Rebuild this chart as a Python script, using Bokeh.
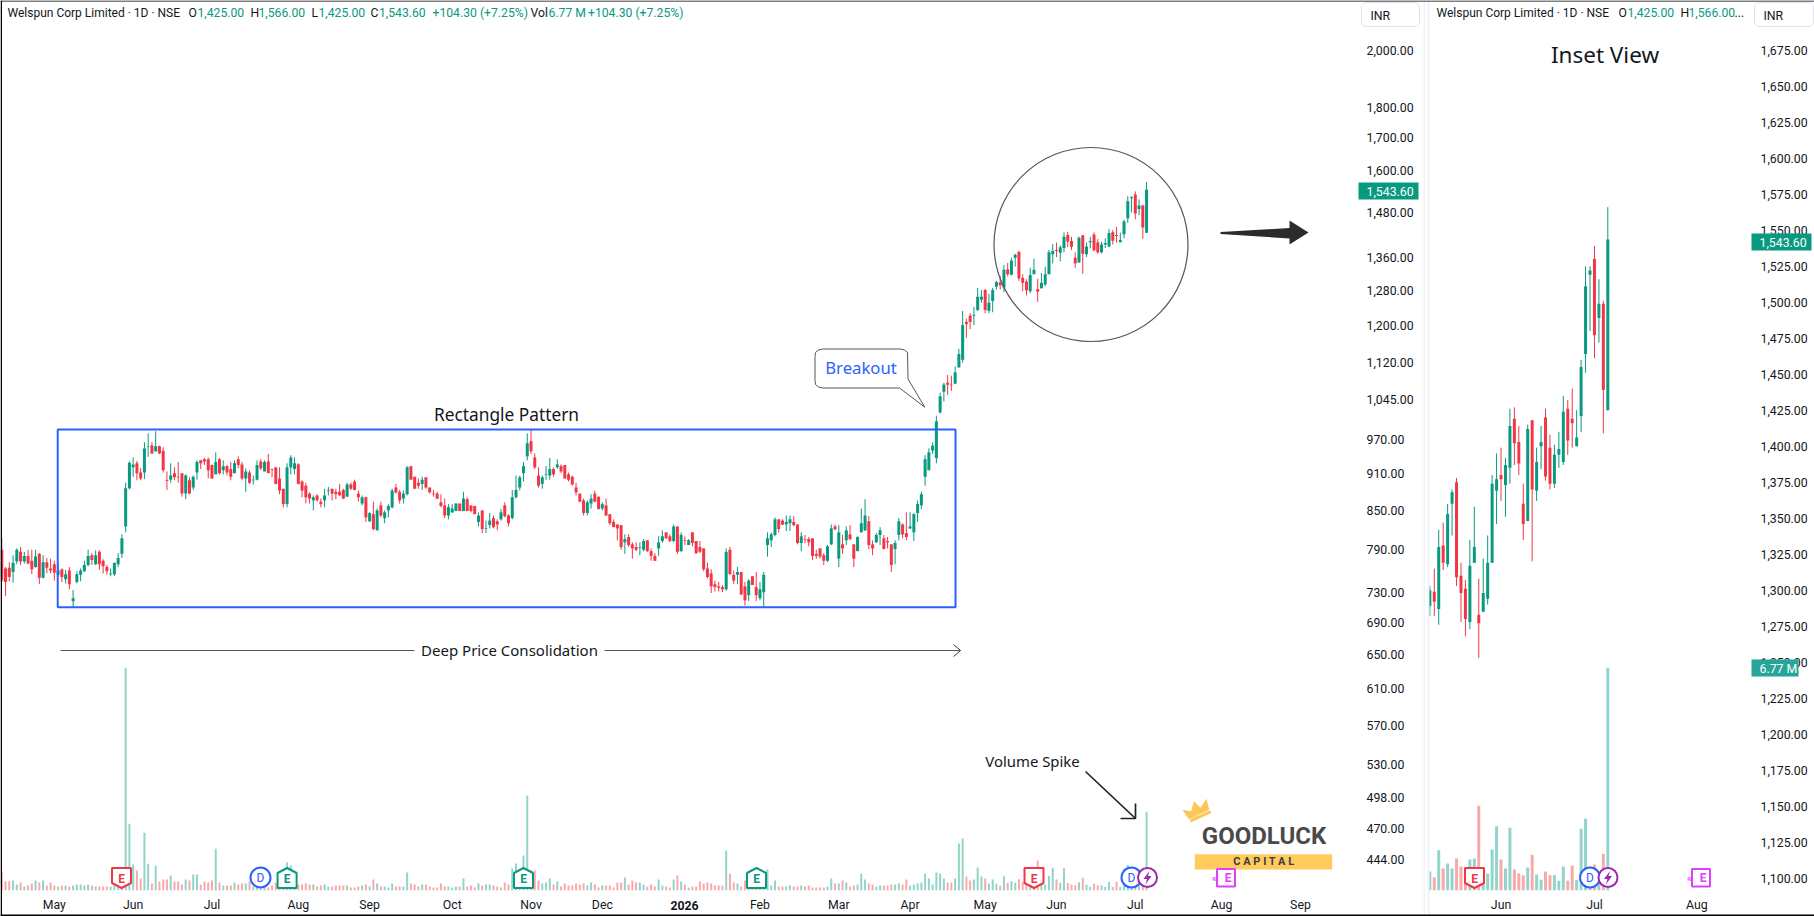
from bokeh.plotting import figure
from bokeh.layouts import row
from bokeh.models import Range1d, LinearScale, FixedTicker, NumeralTickFormatter
from bokeh.core.properties import value
from bokeh.embed import file_html
from bokeh.resources import INLINE

opens = [790,763,764,758,773,787,773,781,774,765,
784,750,772,763,769,754,762,748,760,718,
744,754,759,768,782,769,787,774,765,755,
755,769,784,825,886,921,928,912,912,957,
959,949,958,950,899,900,911,905,911,877,
899,887,912,933,935,935,925,909,935,916,
923,918,911,935,926,902,912,899,900,931,
914,931,918,921,902,885,860,921,918,926,
897,890,877,866,874,864,866,882,885,880,
880,883,872,892,897,877,861,871,833,844,
819,858,838,850,855,887,880,869,876,923,
905,895,893,904,887,877,877,863,858,842,
847,849,861,849,868,858,857,832,850,821,
827,838,833,836,858,842,838,871,887,911,
940,967,938,907,893,908,907,918,921,923,
925,909,905,887,877,866,846,861,877,872,
853,858,844,832,828,827,801,809,798,794,
793,790,804,788,781,792,803,816,810,803,
825,788,804,797,816,803,794,792,763,756,
741,738,737,734,790,754,754,758,738,726,
752,737,722,730,797,804,812,836,834,828,
830,832,828,800,806,806,807,784,792,782,
774,798,825,777,798,804,813,798,788,816,
819,833,798,801,812,807,803,798,791,812,
828,815,822,816,846,858,905,916,950,937,
1020,1060,1078,1074,1076,1109,1125,1207,1221,1221,
1234,1258,1281,1232,1255,
1289,1299,1287,1331,1318,1360,1375,1310,1301,1278,
1319,1283,1285,1294,1319,1369,1380,1373,1385,1419,
1403,1360,1348,1418,1369,1400,1420,1399,1374,1394,
1389,1426,1419,1400,1421,1464,1519,1530,1489,1499,1425]

closes = [746,744,751,771,790,773,781,770,762,780,
750,772,764,760,757,760,751,755,741,722,
755,760,768,781,775,782,769,766,759,756,
771,778,807,886,929,926,911,902,954,958,
945,958,945,916,898,907,904,904,877,907,
877,905,930,928,931,916,902,930,911,923,
912,905,928,925,902,914,895,900,925,919,
930,911,917,893,882,860,921,938,928,893,
882,871,869,871,866,860,874,883,877,876,
874,869,892,885,883,871,871,839,846,821,
850,842,847,857,882,879,866,877,921,900,
885,890,900,887,879,876,869,857,842,855,
853,861,849,869,849,849,844,842,821,822,
834,824,828,847,841,830,871,883,904,923,
963,949,921,890,904,909,918,909,926,914,
902,900,892,879,864,846,863,869,864,852,
860,842,830,824,822,794,806,797,792,790,
794,803,788,781,774,801,810,807,803,825,
787,812,803,804,800,785,787,762,751,738,
737,736,734,787,755,746,758,727,719,746,
740,726,734,754,807,813,836,821,828,832,
836,827,800,810,805,801,781,781,780,774,
795,822,821,816,792,819,806,777,809,830,
842,797,792,812,819,791,801,768,800,833,
813,809,825,844,860,876,935,947,959,1003,
1051,1074,1074,1073,1099,1137,1200,1202,1207,1223,
1265,1265,1234,1251,1281,
1300,1292,1330,1319,1353,1368,1309,1298,1280,1317,
1330,1277,1298,1319,1374,1377,1377,1387,1414,1402,
1388,1346,1412,1370,1389,1403,1379,1374,1394,1398,
1424,1404,1416,1406,1455,1511,1522,1477,1499,1439,1543.6]

highs = [807,765,772,782,792,794,787,790,790,790,
785,782,778,777,774,768,763,761,765,733,
759,763,774,790,785,789,789,776,768,763,
771,785,813,895,931,938,932,920,965,981,
965,985,959,956,914,928,921,930,911,909,
904,907,933,933,937,938,926,947,937,933,
925,930,933,940,930,919,916,907,933,935,
933,944,919,921,921,885,928,942,938,928,
899,895,879,874,876,869,885,888,885,885,
893,885,895,895,900,882,874,872,847,864,
853,864,850,860,885,893,883,882,923,923,
905,902,905,904,887,883,880,876,869,860,
860,861,861,880,871,858,857,847,850,834,
846,842,836,852,863,844,883,907,907,930,
981,988,945,921,907,923,937,921,935,926,
925,912,907,895,877,869,866,876,882,872,
863,869,844,836,828,827,813,813,801,801,
801,806,804,792,785,810,819,816,813,828,
825,816,810,806,816,803,803,792,771,762,
746,744,740,792,794,760,765,758,744,748,
752,758,744,758,816,816,839,836,836,842,
842,841,828,816,812,809,807,790,792,785,
797,828,828,827,812,825,827,798,810,853,
868,841,804,815,824,812,809,798,804,838,
830,847,847,846,866,880,942,954,965,1014,
1058,1078,1094,1092,1111,1148,1232,1214,1227,1241,
1286,1281,1283,1272,1286,
1303,1315,1342,1347,1360,1370,1378,1319,1307,1335,
1358,1308,1322,1338,1380,1395,1399,1392,1426,1427,
1414,1374,1415,1418,1399,1414,1426,1408,1401,1410,
1435,1432,1440,1425,1460,1525,1525,1539,1516,1501,1566]

lows = [744,725,745,743,769,768,770,769,755,764,
741,749,756,756,746,752,744,742,734,710,
742,745,758,766,768,768,761,756,754,752,
752,765,778,816,884,905,899,899,901,939,
944,948,944,912,883,895,899,895,872,868,
876,883,900,918,925,902,902,909,909,909,
907,899,911,919,899,880,893,892,899,916,
914,911,904,892,876,855,855,909,909,892,
871,861,861,850,864,855,855,874,866,868,
874,868,872,883,882,864,858,832,832,819,
819,839,830,839,853,877,861,861,874,900,
885,885,883,885,877,872,868,855,838,836,
846,849,849,849,849,847,844,825,815,815,
822,822,819,834,839,825,836,869,882,897,
933,944,918,887,885,900,900,905,918,911,
902,897,890,874,863,842,842,853,863,852,
850,841,827,824,804,790,784,794,777,788,
782,788,787,774,774,781,800,806,801,801,
784,787,797,797,795,784,785,759,749,729,
731,731,730,732,754,741,741,726,712,718,
740,718,719,709,780,794,810,816,827,818,
818,825,798,788,800,795,775,777,777,768,
772,797,819,765,784,797,804,765,788,816,
818,791,782,800,797,791,792,758,769,804,
807,804,821,803,832,852,890,916,944,928,
1018,1041,1054,1062,1076,1109,1119,1172,1191,1200,
1232,1251,1227,1227,1229,
1282,1282,1276,1314,1316,1338,1303,1278,1268,1273,
1319,1253,1285,1290,1319,1346,1362,1351,1374,1387,
1380,1335,1348,1320,1362,1384,1376,1370,1371,1385,
1387,1394,1399,1400,1410,1451,1480,1461,1472,1409,1425]

volumes = [1.64,.80,.80,.86,.52,.69,.34,.43,.60,.86,
.69,.86,.43,.69,.43,.34,.43,.43,.34,.43,
.52,.52,.43,.52,.43,.34,.34,.34,.34,.34,
.43,.34,.26,19.17,5.74,2.24,1.72,1.03,4.97,2.30,
.60,2.15,.77,.95,.95,1.29,.77,.77,.52,.95,
.86,1.38,1.38,.52,.77,.69,.86,3.59,.69,.43,
.43,.43,.69,.52,.60,.60,.77,.34,.26,.26,
.26,.26,.43,.69,.43,.86,2.41,2.15,.34,.52,
.52,.60,.52,.52,.34,.43,.52,.34,.34,.43,
.43,.43,.43,.26,.26,.34,.43,.52,.34,.95,
.60,.34,.34,.26,.60,.34,.34,.34,1.55,.60,
.52,.34,.52,.52,.34,.26,.26,.60,.34,.34,
.26,.34,.34,1.03,.34,.43,.26,.60,.43,.52,
.52,.43,.34,.26,.69,.52,1.89,2.32,1.21,3.01,
8.18,1.72,1.72,.86,.60,.69,1.03,.52,.77,.34,
.60,.43,.43,.60,.52,.60,.43,.69,.52,.26,
.43,.43,.43,.26,.69,.69,1.12,.52,.86,.69,
.69,.52,.34,.52,.34,.95,.43,.34,.26,.95,
1.29,.77,.52,.26,.34,.34,.77,
.60,.69,.60,.43,.43,.43,3.44,1.46,.69,.60,
.34,.86,.26,.26,.26,.34,.26,1.81,.43,.86,
.34,.34,.34,.43,.34,.34,.43,.34,.43,.26,
.26,.26,.26,.34,1.03,.60,.60,.86,.69,.34,
.43,.52,1.46,.95,.60,.52,.34,.43,.43,.43,
.52,.52,.60,.52,.95,.43,.52,.60,.69,1.46,
1.03,.52,1.55,1.46,1.03,.69,.69,1.03,4.05,4.48,
1.21,.86,.95,1.98,1.21,1.03,.60,.95,
.58,.40,1.22,.67,.82,.67,.97,.73,.55,.94,
.97,2.58,.46,.52,1.25,1.95,.94,.67,1.91,.64,
.52,.46,.70,1.09,.49,.33,.58,.46,.46,.30,
.73,.30,.76,.33,1.88,2.19,.30,.79,.40,1.12,6.77]

main_price_ticks = [2000,1800,1700,1600,1480,1360,1280,1200,1120,1045,970,910,850,790,730,690,650,610,570,530,498,470,444]
inset_price_ticks = list(range(1100, 1700, 25))
month_ticks = [14,35,56,79,98,120,141,160,182,202,223,242,262,281,302,325,346]
month_labels = ["May","Jun","Jul","Aug","Sep","Oct","Nov","Dec","","Feb","Mar","Apr","May","Jun","Jul","Aug","Sep"]
inset_month_ticks = [281,302,325]
inset_month_labels = ["Jun","Jul","Aug"]
INSET_START = 265

FONT = "Roboto"
DRAW_FONT = "Noto Sans"
GREEN, RED = "#089981", "#f23645"
VGREEN, VRED = "#92d3ca", "#f9a9a9"
INK = "#131722"
BLUE = "#2962ff"
FRAME_H = 890


def build(x0, frame_w, right_pad, x_range, y_range, y_type, vol_top, ticks, tick_fmt, body_w, vol_w, start, mticks, mlabels):
    p = figure(width=int(frame_w + right_pad), height=916, output_backend="svg", toolbar_location=None,
               x_range=Range1d(*x_range), y_range=Range1d(*y_range), y_axis_type=y_type, y_axis_location="right",
               min_border_left=0, min_border_right=right_pad, min_border_top=0, min_border_bottom=26,
               outline_line_color=None, background_fill_color="white", border_fill_color="white", frame_align=False)
    p.grid.visible = False
    p.extra_x_ranges = {"px": Range1d(x0, x0 + frame_w)}
    p.extra_y_ranges = {"px": Range1d(FRAME_H, 0), "vol": Range1d(0, vol_top)}
    p.extra_x_scales = {"px": LinearScale()}
    p.extra_y_scales = {"px": LinearScale(), "vol": LinearScale()}
    ax = p.yaxis[0]
    ax.ticker = FixedTicker(ticks=ticks)
    ax.formatter = NumeralTickFormatter(format=tick_fmt)
    bx = p.xaxis[0]
    bx.ticker = FixedTicker(ticks=mticks)
    bx.major_label_overrides = dict(zip(mticks, mlabels))
    for a in (ax, bx):
        a.axis_line_color = None
        a.major_tick_line_color = None
        a.minor_tick_line_color = None
        a.major_tick_out = 0
        a.major_tick_in = 0
        a.minor_tick_out = 0
        a.minor_tick_in = 0
        a.major_label_text_font = FONT
        a.major_label_text_font_size = "12.3px"
        a.major_label_text_color = INK
    ax.major_label_standoff = 6
    bx.major_label_standoff = 7

    idx = list(range(start, len(opens)))
    o, h, l, c, v = opens[start:], highs[start:], lows[start:], closes[start:], volumes[start:]
    col = [GREEN if ci >= oi else RED for oi, ci in zip(o, c)]
    vcol = [VGREEN if ci >= oi else VRED for oi, ci in zip(o, c)]
    p.vbar(x=idx, top=v, bottom=0, width=vol_w, color=vcol, y_range_name="vol", line_color=None)
    p.segment(x0=idx, x1=idx, y0=l, y1=h, color=col, line_width=1)
    p.vbar(x=idx, top=[max(a, b) for a, b in zip(o, c)], bottom=[min(a, b) for a, b in zip(o, c)],
           width=body_w, color=col, line_color=None)
    return p


def txt(p, x, y, s, color=INK, size=12, align="left", style="normal", font=FONT):
    p.text(x=[x], y=[y], text=[s], x_range_name="px", y_range_name="px", text_font=value(font),
           text_font_size=f"{size}px", text_color=color, text_align=align, text_baseline="middle",
           text_font_style=style)


def ln(p, xs, ys, color="#333333", w=1.0):
    p.line(xs, ys, x_range_name="px", y_range_name="px", line_color=color, line_width=w)


def poly(p, xs, ys, fill, line=None, w=1.0):
    p.patch(xs, ys, x_range_name="px", y_range_name="px", fill_color=fill, line_color=line, line_width=w)


def e_mark(p, cx, color, down):
    xl, xr, t, b = cx - 9.5, cx + 9.5, 867.5, 887.5
    if down:
        poly(p, [xl, xr, xr, cx, xl], [t, t, b - 5, b, b - 5], "white", color, 2)
    else:
        poly(p, [xl, cx, xr, xr, xl], [t + 5, t, t + 5, b, b], "white", color, 2)
    txt(p, cx, 878, "E", color, 12, "center", "bold")


def d_mark(p, cx):
    p.ellipse([cx], [877], width=20, height=20, x_range_name="px", y_range_name="px",
              fill_color="white", line_color=BLUE, line_width=2)
    txt(p, cx, 877, "D", BLUE, 12, "center")


def bolt_mark(p, cx):
    p.ellipse([cx], [877], width=19, height=19, x_range_name="px", y_range_name="px",
              fill_color="white", line_color="#9c27b0", line_width=2)
    poly(p, [cx + 2, cx - 4, cx - 0.5, cx - 2, cx + 4, cx + 0.5],
         [870.5, 878.5, 878.5, 884, 875.5, 875.5], "#9c27b0")


def est_mark(p, cx):
    poly(p, [cx - 9, cx + 9, cx + 9, cx - 9], [868.5, 868.5, 886, 886], "white", "#e040fb", 2)
    txt(p, cx + 2, 877.5, "E", "#e040fb", 12, "center", "bold")
    txt(p, cx - 11, 877.5, "\u2248", "#e040fb", 10, "center", "bold")


def tag(p, x0, x1, y0, y1, tx, s, fill):
    poly(p, [x0, x1, x1, x0], [y0, y0, y1, y1], fill)
    txt(p, tx, (y0 + y1) / 2 + 0.5, s, "white", 12.3)


def inr_box(p, x0, x1, tx):
    poly(p, [x0 + 3, x1 - 3, x1, x1, x1 - 3, x0 + 3, x0, x0], [2, 2, 5, 23, 26, 26, 23, 5], "white", "#e0e3eb", 1)
    txt(p, tx, 15, "INR", INK, 12.3)


# ---------- main pane ----------
main = build(0, 1360, 68, (-0.346, 362.0), (419.1, 2195), "log", 76.56, main_price_ticks, "0,0.00", 0.8, 0.53, 0,
             month_ticks, month_labels)

# pattern box from its index and price limits
RECT_LEFT, RECT_RIGHT, RECT_TOP, RECT_BOTTOM = 14.9, 254.1, 988, 710
main.quad(left=[RECT_LEFT], right=[RECT_RIGHT], top=[RECT_TOP], bottom=[RECT_BOTTOM], fill_color=None, line_color=BLUE, line_width=2)

txt(main, 7, 12, "Welspun Corp Limited \u00b7 1D \u00b7 NSE", INK, 12)
for x, s, col in [(188, "O", INK), (197, "1,425.00", GREEN), (250, "H", INK), (258, "1,566.00", GREEN),
                  (311, "L", INK), (318, "1,425.00", GREEN), (370, "C", INK), (378.5, "1,543.60", GREEN),
                  (432, "+104.30 (+7.25%)", GREEN), (530, "Vol", INK), (548, "6.77 M", GREEN),
                  (587.5, "+104.30 (+7.25%)", GREEN)]:
    txt(main, x, 12, s, col, 12.2)

txt(main, 506, 414, "Rectangle Pattern", "#131722", 17.3, "center", font=DRAW_FONT)
txt(main, 509, 649, "Deep Price Consolidation", "#131722", 15, "center", font=DRAW_FONT)
ln(main, [60, 414], [650, 650], "#555555", 1)
ln(main, [604, 960], [650, 650], "#555555", 1)
ln(main, [953, 960, 953], [644, 650, 656], "#333333", 1)

# breakout callout
poly(main, [822, 900, 904, 907, 907.5, 924.3, 899, 822, 818, 815, 814.5, 814.5, 815, 818],
     [348.5, 348.5, 349.5, 352, 378.5, 406.7, 387.5, 387.5, 386.5, 384, 380, 356, 352, 349.5],
     "white", "#555555", 1)
txt(main, 860.5, 367, "Breakout", BLUE, 16.7, "center", font=DRAW_FONT)

# circle and fat arrow
main.ellipse([1090.5], [244], width=194, height=194, x_range_name="px", y_range_name="px",
             fill_color=None, line_color="#555555", line_width=1.2)
poly(main, [1220, 1289, 1289, 1308, 1289, 1289, 1220], [231.5, 227.5, 220, 232, 244, 238, 233.5], "#2b2b2b")

# volume spike
txt(main, 1032, 760, "Volume Spike", "#131722", 14.9, "center", font=DRAW_FONT)
ln(main, [1085, 1135], [771, 818], "#222222", 1.7)
ln(main, [1120, 1135, 1135], [818, 818, 803], "#222222", 1.7)

# logo
poly(main, [1182, 1190.7, 1193.3, 1200, 1206, 1208.7, 1188.3], [809.3, 810.7, 800.7, 807.3, 798.3, 809.3, 818.7], "#fdc656")
poly(main, [1189.3, 1209.7, 1210.7, 1190.3], [818.7, 809.7, 812.5, 822], "#fdc656")
txt(main, 1263.5, 835, "GOODLUCK", "#4a4a4a", 24, "center", "bold")
poly(main, [1194.3, 1331.7, 1331.7, 1194.3], [853.7, 853.7, 869, 869], "#ffcb5c")
txt(main, 1263.5, 861, "C A P I T A L", "#3d3d3d", 11, "center", "bold")

e_mark(main, 121, RED, True)
d_mark(main, 260)
e_mark(main, 286.6, GREEN, False)
e_mark(main, 523, GREEN, False)
e_mark(main, 756, GREEN, False)
e_mark(main, 1033.5, RED, True)
d_mark(main, 1131)
bolt_mark(main, 1147)
est_mark(main, 1225.5)

# ---------- inset pane ----------
inset = build(1428, 326, 60, (264.7, 337.97), (1091.5, 1709.5), "linear", 27.06, inset_price_ticks, "0,0.00", 0.67, 0.67,
              INSET_START, inset_month_ticks, inset_month_labels)

txt(inset, 1436, 12, "Welspun Corp Limited \u00b7 1D \u00b7 NSE", INK, 12)
txt(inset, 1618, 12, "O", INK, 12.2)
txt(inset, 1627, 12, "1,425.00", GREEN, 12.2)
txt(inset, 1680, 12, "H", INK, 12.2)
txt(inset, 1688, 12, "1,566.00", GREEN, 12.2)
txt(inset, 1734, 12, "...", INK, 12.2)
txt(inset, 1604.5, 54, "Inset View", "#131722", 22.5, "center", font=DRAW_FONT)

e_mark(inset, 1474, RED, True)
d_mark(inset, 1589.5)
bolt_mark(inset, 1607.5)
est_mark(inset, 1700.5)

# ---------- transparent layer for what lies outside the plot frames ----------
top = figure(width=1814, height=916, output_backend="svg", toolbar_location=None,
             x_range=Range1d(0, 1814), y_range=Range1d(916, 0), x_axis_location=None, y_axis_location=None,
             min_border_left=0, min_border_right=0, min_border_top=0, min_border_bottom=0,
             outline_line_color=None, background_fill_color=None, border_fill_color=None,
             margin=(0, 0, 0, -1814), frame_align=False)
top.grid.visible = False
top.extra_x_ranges = {"px": Range1d(0, 1814)}
top.extra_y_ranges = {"px": Range1d(916, 0)}
top.extra_x_scales = {"px": LinearScale()}
top.extra_y_scales = {"px": LinearScale()}

poly(top, [1423, 1424.5, 1424.5, 1423], [0, 0, 915, 915], "#f0f3fa")
poly(top, [1427, 1429, 1429, 1427], [0, 0, 915, 915], "#f0f3fa")
ln(top, [0.75, 0.75], [0, 916], "#000000", 1.5)
ln(top, [0, 1814], [0.5, 0.5], "#000000", 1)
ln(top, [0, 1814], [915, 915], "#000000", 2)

txt(top, 684, 904.5, "2026", INK, 12.3, "center", "bold")
inr_box(top, 1361, 1419, 1370)
inr_box(top, 1754, 1813, 1763)
tag(top, 1358, 1418, 182, 199, 1366, "1,543.60", GREEN)
tag(top, 1751, 1811, 233, 250, 1759, "1,543.60", GREEN)
tag(top, 1751, 1798, 659, 676, 1759, "6.77 M", "#26a69a")

layout = row(main, inset, top, spacing=0, margin=0)
open("out.html", "w").write(file_html(layout, INLINE))
